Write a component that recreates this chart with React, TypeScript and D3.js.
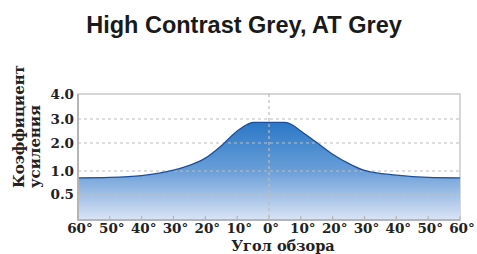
import React, { useEffect, useRef } from 'react';
import * as d3 from 'd3';

// viewing angle (degrees) and gain
const angles = [-60, -50, -40, -30, -25, -20, -15, -10, -7, -5, 0, 5, 7, 10, 15, 20, 25, 30, 40, 50, 60];
const gains = [0.85, 0.86, 0.9, 1.03, 1.2, 1.46, 1.9, 2.5, 2.76, 2.86, 2.86, 2.86, 2.78, 2.5, 2.02, 1.6, 1.27, 1.02, 0.91, 0.86, 0.85];

const xTicks = [-60, -50, -40, -30, -20, -10, 0, 10, 20, 30, 40, 50, 60];
const yTicks = [0.5, 1.0, 2.0, 3.0, 4.0];
const yGrid = [0.5, 1.0, 2.0, 3.0];

const title = 'High Contrast Grey, AT Grey';
const yTitle = ['Коэффициент', 'усиления'];
const xTitle = 'Угол обзора';

const W = 477;
const H = 254;

const App: React.FC = () => {
  const svgRef = useRef<SVGSVGElement>(null);

  useEffect(() => {
    if (!svgRef.current) return;
    const svg = d3.select(svgRef.current);
    svg.selectAll('*').remove();

    const left = 78;
    const right = 460;
    const top = 94;
    const bottom = 220;

    const x = d3.scaleLinear().domain([-60, 60]).range([left, right]);
    // the gain axis is not linear: labels are spaced evenly
    const y = d3
      .scaleLinear()
      .domain([0, 0.5, 1, 2, 3, 4])
      .range([bottom, 194, 171, 143, 119, top]);

    const serif = '"DejaVu Serif", serif';

    svg
      .append('text')
      .attr('x', 244)
      .attr('y', 33)
      .attr('text-anchor', 'middle')
      .style('font-family', '"Liberation Sans", Arial, sans-serif')
      .style('font-weight', 'bold')
      .style('font-size', '23.5px')
      .style('fill', '#1a1a1a')
      .text(title);

    // gradient fill
    const defs = svg.append('defs');
    const grad = defs
      .append('linearGradient')
      .attr('id', 'fillGrad')
      .attr('x1', 0)
      .attr('y1', 0)
      .attr('x2', 0)
      .attr('y2', 1);
    grad.append('stop').attr('offset', '0%').attr('stop-color', '#2a78c6');
    grad.append('stop').attr('offset', '50%').attr('stop-color', '#6a9fd8');
    grad.append('stop').attr('offset', '100%').attr('stop-color', '#dae4f4');

    // frame
    svg
      .append('rect')
      .attr('x', left)
      .attr('y', top)
      .attr('width', right - left)
      .attr('height', bottom - top)
      .attr('fill', '#fff')
      .attr('stroke', '#c9c9c9')
      .attr('stroke-width', 1.5);

    const data = angles.map((a, i) => ({ a, g: gains[i] }));

    const area = d3
      .area<{ a: number; g: number }>()
      .x((d) => x(d.a))
      .y0(bottom)
      .y1((d) => y(d.g))
      .curve(d3.curveMonotoneX);

    const line = d3
      .line<{ a: number; g: number }>()
      .x((d) => x(d.a))
      .y((d) => y(d.g))
      .curve(d3.curveMonotoneX);

    svg.append('path').attr('d', area(data)).attr('fill', 'url(#fillGrad)');

    // grid lines
    svg
      .selectAll('line.hgrid')
      .data(yGrid)
      .enter()
      .append('line')
      .attr('class', 'hgrid')
      .attr('x1', left)
      .attr('x2', right)
      .attr('y1', (d) => y(d))
      .attr('y2', (d) => y(d))
      .attr('stroke', '#bdbdbd')
      .attr('stroke-width', 1.2)
      .attr('stroke-dasharray', '3,3');

    svg
      .append('line')
      .attr('x1', x(0))
      .attr('x2', x(0))
      .attr('y1', top)
      .attr('y2', bottom)
      .attr('stroke', '#bdbdbd')
      .attr('stroke-width', 1.2)
      .attr('stroke-dasharray', '3,3');

    svg
      .append('path')
      .attr('d', line(data))
      .attr('fill', 'none')
      .attr('stroke', '#1b4f9e')
      .attr('stroke-width', 1.3);

    // small ticks on the bottom axis
    svg
      .selectAll('line.xtickmark')
      .data(xTicks)
      .enter()
      .append('line')
      .attr('class', 'xtickmark')
      .attr('x1', (d) => x(d))
      .attr('x2', (d) => x(d))
      .attr('y1', bottom - 4)
      .attr('y2', bottom)
      .attr('stroke', '#b5b5b5')
      .attr('stroke-width', 1.2);

    // left and bottom axis lines
    svg
      .append('path')
      .attr('d', `M${left},${top}V${bottom}H${right}`)
      .attr('fill', 'none')
      .attr('stroke', '#b5b5b5')
      .attr('stroke-width', 2);

    // y tick labels
    svg
      .selectAll('text.ytick')
      .data(yTicks)
      .enter()
      .append('text')
      .attr('class', 'ytick')
      .attr('x', left - 4)
      .attr('y', (d) => y(d) + 5)
      .attr('text-anchor', 'end')
      .style('font-family', serif)
      .style('font-weight', 'bold')
      .style('font-size', '13.5px')
      .style('fill', '#222')
      .text((d) => d.toFixed(1));

    // x tick labels
    svg
      .selectAll('text.xtick')
      .data(xTicks)
      .enter()
      .append('text')
      .attr('class', 'xtick')
      .attr('x', (d) => x(d) + 2)
      .attr('y', 233)
      .attr('text-anchor', 'middle')
      .style('font-family', serif)
      .style('font-weight', 'bold')
      .style('font-size', '13.5px')
      .style('fill', '#222')
      .text((d) => `${Math.abs(d)}°`);

    svg
      .append('text')
      .attr('x', 283)
      .attr('y', 250.5)
      .attr('text-anchor', 'middle')
      .style('font-family', serif)
      .style('font-weight', 'bold')
      .style('font-size', '14.5px')
      .style('fill', '#222')
      .text(xTitle);

    yTitle.forEach((t, i) => {
      svg
        .append('text')
        .attr('transform', `translate(${24 + i * 16},188) rotate(-90)`)
        .attr('text-anchor', 'start')
        .style('font-family', serif)
        .style('font-weight', 'bold')
        .style('font-size', '15px')
        .style('fill', '#222')
        .text(t);
    });
  }, []);

  return (
    <svg
      ref={svgRef}
      width={W}
      height={H}
      style={{ position: 'absolute', left: 0, top: 0, background: '#fff' }}
    />
  );
};

export default App;
